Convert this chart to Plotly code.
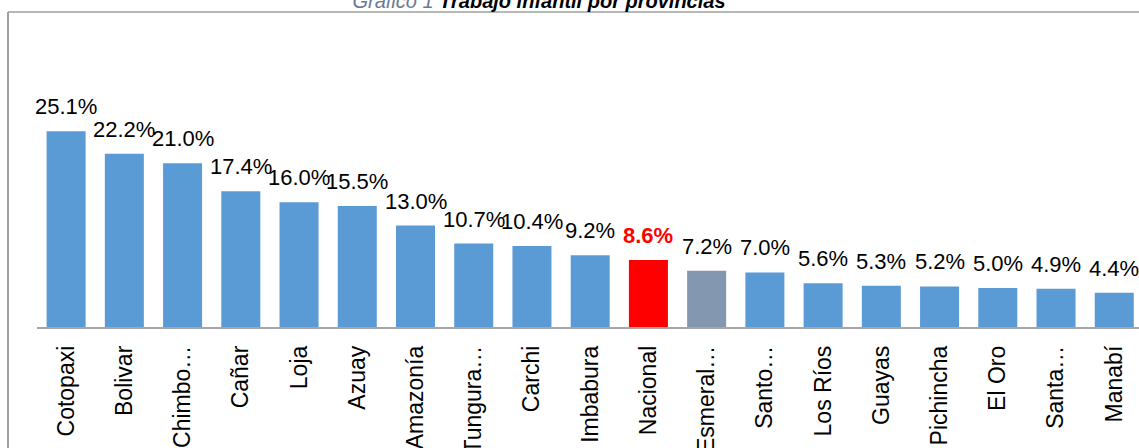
import plotly.graph_objects as go

categories = ["Cotopaxi", "Bolivar", "Chimbo…", "Cañar", "Loja", "Azuay", "Amazonía",
              "Tungura…", "Carchi", "Imbabura", "Nacional", "Esmeral…", "Santo…",
              "Los Ríos", "Guayas", "Pichincha", "El Oro", "Santa…", "Manabí"]
values = [25.1, 22.2, 21.0, 17.4, 16.0, 15.5, 13.0, 10.7, 10.4, 9.2, 8.6, 7.2, 7.0,
          5.6, 5.3, 5.2, 5.0, 4.9, 4.4]

BLUE = "#5B9BD5"
RED = "#FF0000"
GREY = "#8497B0"
colors = [RED if c == "Nacional" else GREY if c.startswith("Esmeral") else BLUE for c in categories]

W, H = 1139, 448
L, R, T, B = 37, 0, 12, 121
plot_w = W - L - R
plot_h = H - T - B
FONT = "Liberation Sans, Arial, sans-serif"

fig = go.Figure()
fig.add_trace(go.Bar(
    x=categories, y=values, marker=dict(color=colors, line=dict(width=0)),
    hoverinfo="skip",
))

for c, v in zip(categories, values):
    nat = c == "Nacional"
    fig.add_annotation(
        x=c, y=v, xref="x", yref="y", text=(f"<b>{v:.1f}%</b>" if nat else f"{v:.1f}%"),
        showarrow=False, yanchor="bottom", yshift=10,
        font=dict(family=FONT, size=22, color=RED if nat else "#000000"),
    )

fx = (8 - L) / plot_w
fy_bottom = (T + plot_h - H) / plot_h
fig.add_shape(type="line", xref="paper", yref="paper", x0=fx, x1=fx, y0=1, y1=fy_bottom,
              line=dict(color="#A0A0A0", width=2))
fig.add_shape(type="line", xref="paper", yref="paper", x0=fx, x1=1.01, y0=1, y1=1,
              line=dict(color="#A0A0A0", width=1.5))

fig.update_layout(
    width=W, height=H,
    margin=dict(l=L, r=R, t=T, b=B, pad=0, autoexpand=False),
    paper_bgcolor="white", plot_bgcolor="white",
    bargap=0.33, showlegend=False,
    title=dict(
        text="<span style='color:#6A7A96'><i>Gráfico 1 </i></span><b><i>Trabajo infantil por provincias</i></b>",
        x=539 / W, xanchor="center", xref="container",
        y=1 - 8 / H, yanchor="bottom", yref="container",
        font=dict(family=FONT, size=20, color="#000000"),
        automargin=False,
    ),
    xaxis=dict(
        range=[-0.5, (W - 66.3) / 58.22], showline=True, linecolor="#A6A6A6", linewidth=1.5,
        showgrid=False, ticks="", tickangle=-90, ticklabelstandoff=8, automargin=False,
        tickfont=dict(family=FONT, size=23, color="#000000"),
        fixedrange=True,
    ),
    yaxis=dict(range=[0, plot_h / 7.8], visible=False, showgrid=False, fixedrange=True,
               automargin=False),
)

fig.write_html("out.html", config={"displayModeBar": False, "staticPlot": True})
with open("out.html", "r", encoding="utf-8") as f:
    html = f.read()
html = html.replace("<head>", "<head><style>html,body{margin:0;padding:0;overflow:hidden}</style>", 1)
with open("out.html", "w", encoding="utf-8") as f:
    f.write(html)
